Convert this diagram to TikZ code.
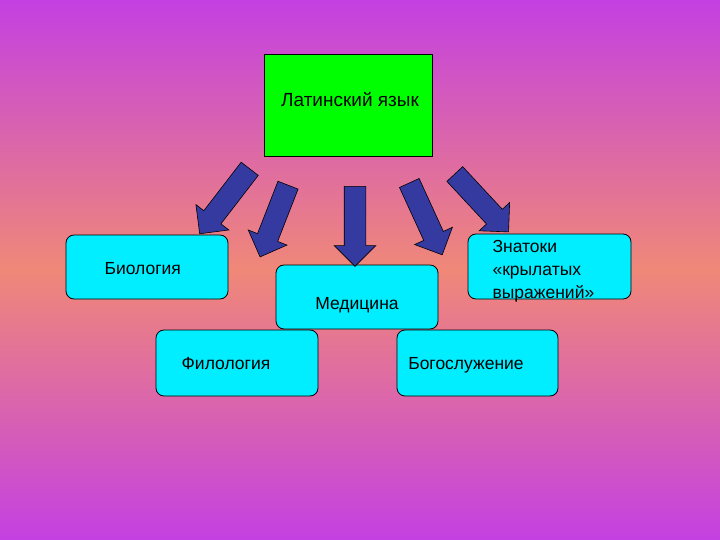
\documentclass[tikz,border=0pt]{standalone}
\usepackage{fontspec}
\setmainfont{Liberation Sans}
\usetikzlibrary{shapes.arrows}
\definecolor{bgtop}{RGB}{196,64,226}
\definecolor{bgmid}{RGB}{240,136,120}
\definecolor{arrowblue}{RGB}{52,58,160}
\definecolor{boxcyan}{RGB}{0,238,255}
\tikzset{
	topic/.style={draw=black, fill=boxcyan, rounded corners=8pt, line width=.8pt},
	bigarrow/.style={single arrow, draw=black, fill=arrowblue, line width=.6pt, inner sep=0pt,
		text height=21pt, text depth=0pt, single arrow head extend=10pt, single arrow head indent=0pt},
	label/.style={font=\fontsize{17.5}{23}\selectfont, anchor=base}
}
\begin{document}
\begin{tikzpicture}[x=1pt, y=-1pt]
	\shade[top color=bgtop, bottom color=bgtop, middle color=bgmid] (0,0) rectangle (720,540);
	\useasboundingbox (0,0) rectangle (720,540);
	% boxes
	\draw[fill=green, line width=.8pt] (264,54) rectangle (432,156);
	\node[label, font=\fontsize{19}{23}\selectfont] (lat) at (350,107) {Латинский язык};
	\draw[topic] (66,235) rectangle (228,299);
	\node[label, anchor=base west] (bio) at (101,274) {Биология};
	\draw[topic] (276,265) rectangle (438,329);
	\node[label] (med) at (357,309) {Медицина};
	\draw[topic] (468,234) rectangle (631,299);
	\node[label, anchor=west, align=left] (zna) at (489,271) {Знатоки\\«крылатых\\выражений»};
	\draw[topic] (156,330) rectangle (318,396);
	\node[label] (fil) at (226,369) {Филология};
	\draw[topic] (397,330) rectangle (558,396);
	\node[label] (bog) at (466,369) {Богослужение};
	% arrows
	\node[bigarrow, minimum height=82pt, rotate=232.4] (a1) at (228,197) {};
	\node[bigarrow, minimum height=77pt, rotate=248.7] (a2) at (276,216) {};
	\node[bigarrow, minimum height=80pt, rotate=270] (a3) at (355,221) {};
	\node[bigarrow, minimum height=79pt, rotate=294.6] (a4) at (423.5,214) {};
	\node[bigarrow, minimum height=79pt, rotate=312.9] (a5) at (478,199) {};
\end{tikzpicture}
\end{document}
